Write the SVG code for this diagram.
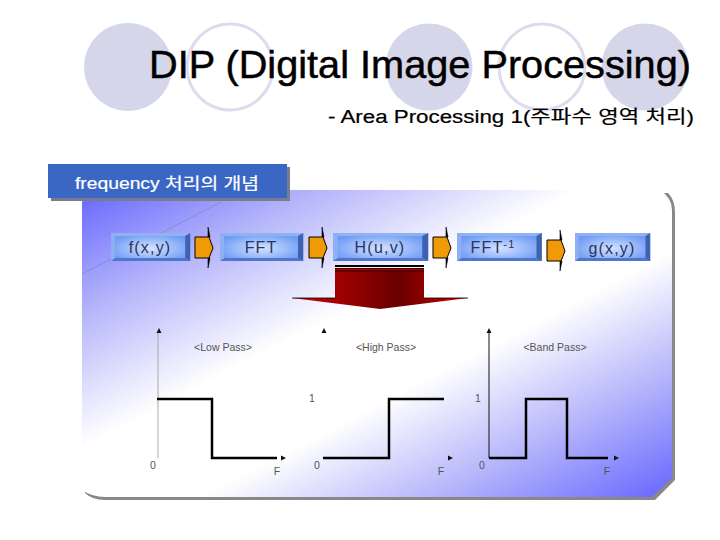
<svg xmlns="http://www.w3.org/2000/svg" width="720" height="540" viewBox="0 0 720 540">
<style>
.l{font-family:"Liberation Sans","Noto Sans CJK KR",sans-serif}
.lbl{font-size:16px;fill:#26355c;text-anchor:middle;font-family:"Liberation Sans",sans-serif;letter-spacing:1.2px}
.cap{font-size:10.5px;fill:#555;text-anchor:middle;font-family:"Liberation Sans",sans-serif}
.ax{stroke:#111;stroke-width:1;fill:none}
.sg{stroke:#000;stroke-width:2.5;fill:none}
.ar{fill:#f09a08;stroke:#000;stroke-width:1}
</style>
<defs>
<linearGradient id="bg" x1="0" y1="0" x2="1" y2="1"><stop offset="0" stop-color="#6666ff"/><stop offset=".2" stop-color="#b4b4fb"/><stop offset=".42" stop-color="#fff"/><stop offset=".6" stop-color="#fff"/><stop offset=".8" stop-color="#b4b4fb"/><stop offset="1" stop-color="#6666ff"/></linearGradient>
<radialGradient id="bx" cx=".5" cy=".55" r=".55"><stop offset="0" stop-color="#d5e2ff"/><stop offset="1" stop-color="#6d9bf5"/></radialGradient>
<linearGradient id="red" x1="0" y1="0" x2="1" y2="0"><stop offset="0" stop-color="#cc0000"/><stop offset=".6" stop-color="#6a0000"/><stop offset="1" stop-color="#cc0000"/></linearGradient>
<g id="arr"><path d="M13 -3L15 7H13Z M13 38L15 28H13Z" fill="#000" stroke="#000" stroke-width=".6"/><path class="ar" d="M0 7H14L18 18L14 28H0Z"/></g>
<g id="box"><rect width="80" height="28" fill="url(#bx)"/><path d="M0 0H80L75 3H4Z" fill="#8fb3f2"/><path d="M0 28H80L75 25H4Z" fill="#4f75cc"/><path d="M80 0V28L75 25V3Z" fill="#3f62b0"/><path d="M0 0V28L4 25V3Z" fill="#8db0f0"/></g>
</defs>
<g id="decor">
<circle cx="128" cy="67" r="44" fill="#d6d6ea"/>
<circle cx="230" cy="67" r="43" fill="none" stroke="#dcdcee" stroke-width="3"/>
<circle cx="429" cy="67" r="43.5" fill="#d6d6ea"/>
<circle cx="542" cy="67" r="43" fill="none" stroke="#dcdcee" stroke-width="3"/>
<circle cx="645" cy="67" r="43.5" fill="#d6d6ea"/>
</g>
<g id="title">
<text class="l" x="149" y="78" font-size="39" fill="#000" stroke="#000" stroke-width=".5" textLength="542" lengthAdjust="spacingAndGlyphs">DIP (Digital Image Processing)</text>
<text class="l" x="328" y="123" font-size="18" fill="#000" stroke="#000" stroke-width=".2" textLength="366" lengthAdjust="spacingAndGlyphs">- Area Processing 1(주파수 영역 처리)</text>
</g>
<g id="panel">
<path d="M85 193H668Q675 200 675 212V480L655 500H105Q92 500 85 493Z" fill="#888"/>
<path d="M82 203Q83 194 86 190H660Q672 198 672 210V478L652 497H105Q92 497 82 490Z" fill="url(#bg)"/>
<path d="M82 274L221 202" stroke="#8a8ab8" stroke-width=".8" fill="none"/>
</g>
<g id="tab">
<rect x="51" y="167" width="239" height="34" fill="#777c90"/>
<rect x="48" y="164" width="239" height="34" fill="#3a66c4"/>
<text class="l" x="75" y="189" font-size="16" fill="#fff" stroke="#fff" stroke-width=".2" textLength="184" lengthAdjust="spacingAndGlyphs">frequency 처리의 개념</text>
</g>
<g id="n1"><use href="#box" transform="translate(111,233) scale(.99,1)"/><text class="lbl" x="150" y="253">f(x,y)</text></g>
<g id="n2"><use href="#box" transform="translate(220,233) scale(1.04,1)"/><text class="lbl" x="261" y="253" style="letter-spacing:1px">FFT</text></g>
<g id="n3"><use href="#box" transform="translate(333,233) scale(1.19,1)"/><text class="lbl" x="380" y="253">H(u,v)</text></g>
<g id="n4"><use href="#box" transform="translate(457,233) scale(1.06,1)"/><text class="lbl" x="493" y="253">FFT<tspan font-size="11" dy="-5">-1</tspan></text></g>
<g id="n5"><use href="#box" transform="translate(575,233) scale(.94,1)"/><text class="lbl" x="612" y="254">g(x,y)</text></g>
<g id="connectors">
<use href="#arr" transform="translate(195,230)"/>
<use href="#arr" transform="translate(309,230)"/>
<use href="#arr" transform="translate(433,230)"/>
<use href="#arr" transform="translate(547,233)"/>
</g>
<g id="bigarrow">
<rect x="335" y="265" width="89" height="2" fill="#000"/>
<path d="M335 268H424V298L468 298L380 309L292 298L335 298Z" fill="url(#red)"/>
<path d="M292 298H335M424 298H468" stroke="#000" stroke-width=".8"/>
<rect x="335" y="268" width="89" height="3.500" fill="#3a0000"/>
<rect x="335" y="269" width="89" height="1.500" fill="#a00000"/>
</g>
<g id="charts">
<path class="ax" d="M158 333V458" style="stroke:#aaa"/>
<path d="M159 328l-2.500 5h5Z M324 328l-2.500 5h5Z M489 328l-2.500 5h5Z M286 458l-5-2.500v5Z M453 458l-5-2.500v5Z M619 458l-5-2.500v5Z" fill="#111"/>
<path class="sg" d="M157 399H212V458H277"/>
<path class="sg" d="M323 458H389V399H444"/>
<path class="ax" d="M489 333V458"/>
<path class="sg" d="M489 458H526V399H567V458H608"/>
<text class="cap" x="223" y="351">&lt;Low Pass&gt;</text>
<text class="cap" x="386" y="351">&lt;High Pass&gt;</text>
<text class="cap" x="555" y="351">&lt;Band Pass&gt;</text>
<text class="cap" x="153" y="469">0</text><text class="cap" x="317" y="469">0</text><text class="cap" x="482" y="469">0</text>
<text class="cap" x="277" y="475">F</text><text class="cap" x="441" y="475">F</text><text class="cap" x="607" y="475">F</text>
<text class="cap" x="312" y="402">1</text><text class="cap" x="478" y="402">1</text>
</g>
</svg>
